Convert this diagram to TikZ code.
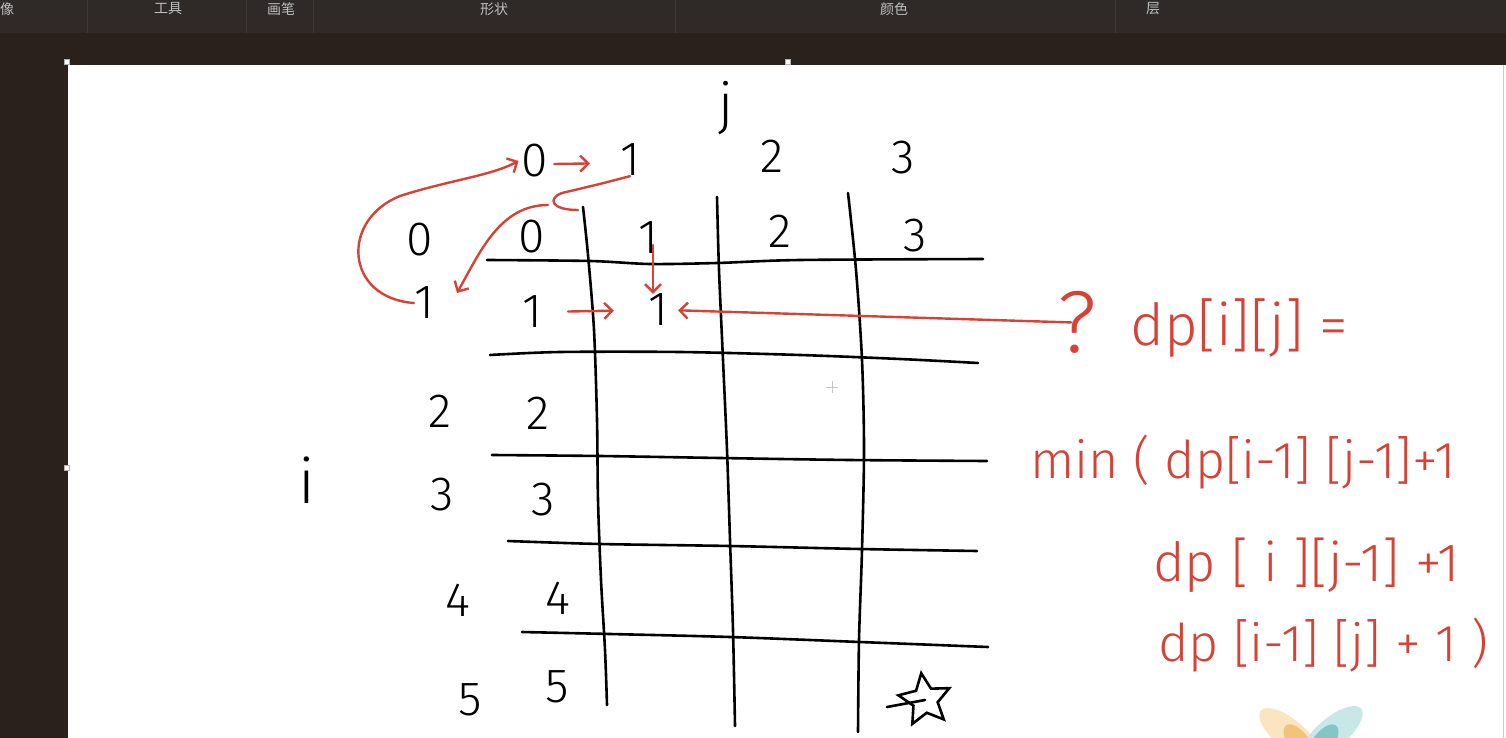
\documentclass[tikz,border=0pt]{standalone}
\usepackage{fontspec}
\setmainfont{Fira Sans}
\newfontfamily\hand{Fira Sans Light}
\newfontfamily\cjk{Noto Sans CJK SC}
\usetikzlibrary{arrows.meta,shapes.geometric}
\definecolor{tbarc}{RGB}{47,42,40}
\definecolor{darkc}{RGB}{42,32,28}
\definecolor{sepc}{RGB}{62,56,54}
\definecolor{tblc}{RGB}{190,190,190}
\definecolor{redc}{RGB}{214,66,54}
\definecolor{petalY}{RGB}{251,228,192}
\definecolor{petalYd}{RGB}{242,196,122}
\definecolor{petalT}{RGB}{200,232,232}
\definecolor{petalTd}{RGB}{130,198,198}
\tikzset{
  gridline/.style={black,line width=2.6pt,line cap=round,line join=round},
  num/.style={font=\hand\fontsize{48}{48}\selectfont,inner sep=0pt},
  rtext/.style={text=redc,font=\hand\fontsize{52}{52}\selectfont,inner sep=0pt,anchor=west},
  rline/.style={redc,line width=2.4pt,line cap=round,line join=round},
  rarrow/.style={rline,-{Straight Barb[length=8pt,width=16pt,line width=2.4pt]}},
  tblabel/.style={text=tblc,font=\cjk\fontsize{14}{14}\selectfont,inner sep=0pt},
  sepline/.style={sepc,line width=1pt},
  handle/.style={fill=white,draw=gray!60,line width=0.5pt}
}
\begin{document}
\begin{tikzpicture}[x=1pt,y=-1pt]
\useasboundingbox (0,0) rectangle (1506,738);
% window chrome
\fill[tbarc] (0,0) rectangle (1506,33);
\fill[darkc] (0,33) rectangle (1506,65);
\fill[darkc] (0,65) rectangle (68,738);
\fill[white] (68,65) rectangle (1506,738);
\draw[gray!40,line width=1pt] (1503,65) -- (1503,738);
\foreach \x in {87,246,313,675,1115} \draw[sepline] (\x,0) -- (\x,33);
\node[tblabel] (tb1) at (7,9) {像};
\node[tblabel] (tb2) at (168,9) {工具};
\node[tblabel] (tb3) at (281,9) {画笔};
\node[tblabel] (tb4) at (494,9) {形状};
\node[tblabel] (tb5) at (894,9) {颜色};
\node[tblabel] (tb6) at (1153,9) {层};
\draw[handle] (64.5,59.5) rectangle (69.5,64.5);
\draw[handle] (785.5,59.5) rectangle (790.5,64.5);
\draw[handle] (64.5,465.5) rectangle (69.5,470.5);
% grid
\draw[gridline] plot[smooth] coordinates {(583,207) (588,255) (594,330) (597,420) (598,500) (601,580) (605,650) (607,705)};
\draw[gridline] plot[smooth] coordinates {(717,197) (719,270) (723,360) (727,450) (730,540) (733,630) (735,726)};
\draw[gridline] plot[smooth] coordinates {(848,193) (856,270) (862,360) (864,450) (862,550) (859,640) (858,732)};
\draw[gridline] plot[smooth] coordinates {(487,260) (590,261) (650,264) (717,263) (800,260) (983,259)};
\draw[gridline] plot[smooth] coordinates {(490,355) (560,352) (680,352) (800,355) (900,359) (978,363)};
\draw[gridline] plot[smooth] coordinates {(492,455) (600,456) (720,458) (850,460) (987,461)};
\draw[gridline] plot[smooth] coordinates {(508,541) (600,544) (730,546) (860,549) (977,551)};
\draw[gridline] plot[smooth] coordinates {(522,632) (610,634) (730,637) (860,642) (988,647)};
% labels
\node[num,font=\hand\fontsize{56}{56}\selectfont] (jl) at (726,108) {j};
\node[num,font=\hand\fontsize{62}{62}\selectfont] (il) at (307,480) {i};
\node[num] (t0) at (535,161) {0};
\node[num] (t1) at (630,160) {1};
\node[num] (t2) at (772,156) {2};
\node[num] (t3) at (903,158) {3};
\node[num] (h0) at (420,240) {0};
\node[num] (h1) at (532,237) {0};
\node[num] (h2) at (648,238) {1};
\node[num] (h3) at (780,231) {2};
\node[num] (h4) at (915,236) {3};
\node[num] (r1a) at (424,303) {1};
\node[num] (r1b) at (532,312) {1};
\node[num] (r1c) at (658,310) {1};
\node[num] (r2a) at (440,411) {2};
\node[num] (r2b) at (538,413) {2};
\node[num] (r3a) at (442,495) {3};
\node[num] (r3b) at (543,500) {3};
\node[num] (r4a) at (458,600) {4};
\node[num] (r4b) at (558,598) {4};
\node[num] (r5a) at (470,700) {5};
\node[num] (r5b) at (557,687) {5};
% star
\node[draw=black,star,star points=5,star point ratio=2.1,minimum size=54pt,line width=2.6pt,rotate=8,inner sep=0pt] (star) at (925,700) {};
\coordinate (sl) at (887,707);
\draw[gridline] (sl) -- (star.center);
% cursor
\draw[gray!45,line width=0.8pt] (826,387) -- (838,387) (832,381) -- (832,393);
% red formula
\node[text=redc,font=\hand\fontsize{88}{88}\selectfont,inner sep=0pt] (q) at (1077,322) {?};
\node[rtext,font=\hand\fontsize{58}{58}\selectfont] (f0) at (1130,328) {dp[i][j] =};
\node[rtext] (f1) at (1030,462) {min ( dp[i-1] [j-1]+1};
\node[rtext,font=\hand\fontsize{54}{54}\selectfont] (f2) at (1153,565) {dp [ i ][j-1] +1};
\node[rtext] (f3) at (1158,645) {dp [i-1] [j] + 1 )};
% red arrows
\draw[rarrow,shorten >=30pt] (t0.east) ++(6,3) -- ([yshift=-3pt]t1.west);
\draw[rarrow] (r1a.west) .. controls (345,298) and (340,220) .. (400,196) .. controls (450,180) and (490,176) .. ([xshift=-3pt]t0.west);
\coordinate (hk) at (562,193);
\coordinate (hs) at (548,205);
\coordinate (he) at (457,293);
\draw[rline] (t1.south) .. controls (600,184) .. (hk) .. controls (548,198) and (550,210) .. (578,210);
\draw[rarrow] (hs) .. controls (500,205) and (480,252) .. (he);
\coordinate (da) at (653,245);
\draw[rarrow] (da) -- (da |- r1c.north);
\draw[rarrow,shorten <=26pt,shorten >=34pt] (r1b.east) -- (r1c.west);
\draw[rarrow,shorten <=-14pt,shorten >=10pt] (q.west) -- (r1c.east);
% logo
\begin{scope}
\clip (68,65) rectangle (1506,738);
\fill[petalY,rotate around={-40:(1290,735)}] (1290,735) ellipse (38 and 15);
\fill[petalYd,rotate around={-55:(1300,745)}] (1300,745) ellipse (24 and 11);
\fill[petalT,rotate around={40:(1332,733)}] (1332,733) ellipse (38 and 15);
\fill[petalTd,rotate around={55:(1322,745)}] (1322,745) ellipse (24 and 11);
\end{scope}
\end{tikzpicture}
\end{document}
